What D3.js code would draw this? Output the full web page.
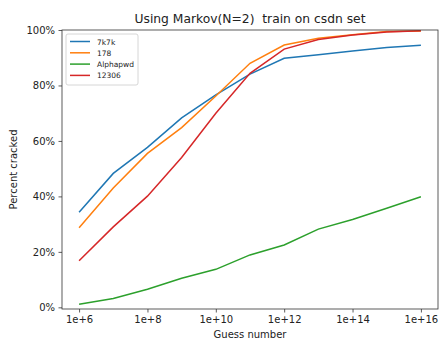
<!DOCTYPE html>
<html>
<head>
<meta charset="utf-8">
<script src="https://cdn.jsdelivr.net/npm/d3@7"></script>
<style>
  html, body { margin: 0; padding: 0; background: #fff; }
  text { font-family: "DejaVu Sans", sans-serif; fill: #222; }
</style>
</head>
<body>
<svg id="chart" width="441" height="339"></svg>
<script>
// Guess counts as powers of ten (1e+6 … 1e+16)
const exponents = [6, 7, 8, 9, 10, 11, 12, 13, 14, 15, 16];
const xTickExps = [6, 8, 10, 12, 14, 16];
const yTicks = [0, 0.2, 0.4, 0.6, 0.8, 1.0];

// Fraction of each test set cracked
const seriesNames = ["7k7k", "178", "Alphapwd", "12306"];
const seriesColors = ["#1f77b4", "#ff7f0e", "#2ca02c", "#d62728"];
const v7k7k     = [0.343, 0.483, 0.577, 0.683, 0.766, 0.841, 0.898, 0.911, 0.924, 0.937, 0.945];
const v178      = [0.287, 0.430, 0.555, 0.648, 0.762, 0.880, 0.946, 0.970, 0.983, 0.995, 0.996];
const vAlphapwd = [0.011, 0.032, 0.065, 0.105, 0.137, 0.189, 0.225, 0.282, 0.317, 0.357, 0.399];
const v12306    = [0.168, 0.290, 0.401, 0.540, 0.700, 0.844, 0.931, 0.966, 0.982, 0.993, 0.997];
const seriesValues = [v7k7k, v178, vAlphapwd, v12306];

const svg = d3.select("#chart");
const margin = { left: 62, right: 3, top: 30, bottom: 30 };
const W = 441, H = 339;
const plotW = W - margin.left - margin.right;
const plotH = H - margin.top - margin.bottom;

// log-scale positions with matplotlib-style 5% padding on x
const x = d3.scaleLinear().domain([5.5, 16.5]).range([margin.left, margin.left + plotW]);
const y = d3.scaleLinear().domain([-0.006, 1.0]).range([margin.top + plotH, margin.top]);

// Lines
const line = d3.line().x((d, i) => x(exponents[i])).y(d => y(d));
seriesValues.forEach((vals, k) => {
  svg.append("path")
    .datum(vals)
    .attr("d", line)
    .attr("fill", "none")
    .attr("stroke", seriesColors[k])
    .attr("stroke-width", 1.5);
});

// Axes
const xAxis = d3.axisBottom(x).tickValues(xTickExps).tickFormat(e => "1e+" + e).tickSizeOuter(0).tickSize(3.5).tickPadding(3.5);
const yAxis = d3.axisLeft(y).tickValues(yTicks).tickFormat(d3.format(".0%")).tickSizeOuter(0).tickSize(3.5).tickPadding(3.5);

const gx = svg.append("g").attr("transform", `translate(0,${margin.top + plotH})`).call(xAxis);
const gy = svg.append("g").attr("transform", `translate(${margin.left},0)`).call(yAxis);
[gx, gy].forEach(g => {
  g.select(".domain").remove();
  g.selectAll(".tick line").attr("stroke", "#333").attr("stroke-width", 0.8);
  g.selectAll(".tick text").attr("font-size", 10).attr("fill", "#222").attr("font-family", "DejaVu Sans, sans-serif");
});

// Frame
svg.append("rect")
  .attr("x", margin.left).attr("y", margin.top)
  .attr("width", plotW).attr("height", plotH)
  .attr("fill", "none").attr("stroke", "#333").attr("stroke-width", 0.8);

// Title and axis labels
svg.append("text")
  .attr("x", margin.left + plotW / 2).attr("y", 23)
  .attr("text-anchor", "middle").attr("font-size", 12.3)
  .style("white-space", "pre")
  .text("Using Markov(N=2)  train on csdn set");

svg.append("text")
  .attr("transform", `translate(17,${margin.top + plotH / 2}) rotate(-90)`)
  .attr("text-anchor", "middle").attr("font-size", 10)
  .text("Percent cracked");

svg.append("text")
  .attr("x", margin.left + plotW / 2).attr("y", 338)
  .attr("text-anchor", "middle").attr("font-size", 10)
  .text("Guess number");

// Legend
const lg = svg.append("g").attr("transform", `translate(${margin.left + 4},${margin.top + 4})`);
lg.append("rect")
  .attr("width", 72).attr("height", 51).attr("rx", 2)
  .attr("fill", "#fff").attr("fill-opacity", 0.8)
  .attr("stroke", "#ccc").attr("stroke-width", 0.8);
seriesNames.forEach((name, k) => {
  const yy = 7.5 + k * 11.3;
  lg.append("line")
    .attr("x1", 4).attr("x2", 24).attr("y1", yy).attr("y2", yy)
    .attr("stroke", seriesColors[k]).attr("stroke-width", 1.5);
  lg.append("text")
    .attr("x", 31).attr("y", yy + 3)
    .attr("font-size", 7.5)
    .text(name);
});
</script>
</body>
</html>
